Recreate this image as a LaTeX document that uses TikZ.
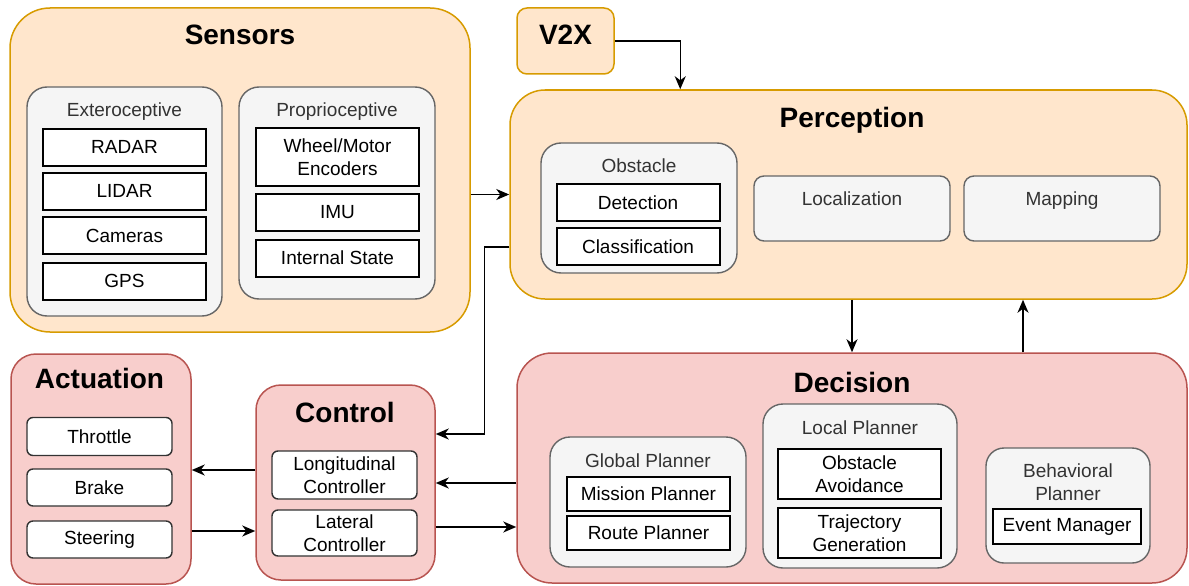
\documentclass[tikz,border=0pt]{standalone}
\usepackage{fontspec}
\setmainfont{Liberation Sans}
\usetikzlibrary{arrows.meta}
\definecolor{orfill}{HTML}{FFE6CC}
\definecolor{orline}{HTML}{D79B00}
\definecolor{pkfill}{HTML}{F8CECC}
\definecolor{pkline}{HTML}{B85450}
\definecolor{gyfill}{HTML}{F5F5F5}
\definecolor{gyline}{HTML}{666666}
\definecolor{gytext}{HTML}{333333}

\begin{document}
\begin{tikzpicture}[
  x=1pt, y=-1pt, >={Stealth[length=13pt,width=11pt,inset=4pt]},
  font=\fontsize{19}{23}\selectfont,
  grpor/.style={draw=orline, fill=orfill, line width=1.5pt, inner sep=0pt},
  grppk/.style={draw=pkline, fill=pkfill, line width=1.5pt, inner sep=0pt},
  subgrp/.style={draw=gyline, fill=gyfill, line width=1.4pt, inner sep=0pt},
  item/.style={draw=black, fill=white, line width=2pt, inner sep=0pt,
               minimum width=163pt, minimum height=37pt, align=center},
  citem/.style={draw=black!80, fill=white, line width=1.4pt, rounded corners=6pt,
                inner sep=0pt, minimum width=145pt, minimum height=37pt, align=center},
  ttl/.style={anchor=base, font=\bfseries\fontsize{28}{32}\selectfont},
  lbl/.style={anchor=base, text=gytext, align=center},
  conn/.style={->, line width=1.5pt},
]
\useasboundingbox (0,0) rectangle (1189,586);

% Sensors
\node[grpor, rounded corners=40pt, minimum width=460pt, minimum height=324pt] (sens) at (240,170) {};
\node[ttl] (sensT) at (240,45) {Sensors};
\node[subgrp, rounded corners=20pt, minimum width=195pt, minimum height=229pt] (extero) at (124.5,201.5) {};
\node[lbl] (exteroT) at (124.5,116) {Exteroceptive};
\node[item] (radar)   at (124.5,147)   {RADAR};
\node[item] (lidar)   at (124.5,191)   {LIDAR};
\node[item] (cameras) at (124.5,235.5) {Cameras};
\node[item] (gps)     at (124.5,281)   {GPS};
\node[subgrp, rounded corners=20pt, minimum width=196pt, minimum height=212pt] (proprio) at (337,193) {};
\node[lbl] (proprioT) at (337,116) {Proprioceptive};
\node[item, minimum height=58pt] (wheel) at (337.5,157) {Wheel/Motor\\Encoders};
\node[item] (imu)      at (337.5,212.5) {IMU};
\node[item] (internal) at (337.5,258)   {Internal State};

% V2X
\node[grpor, rounded corners=10pt, minimum width=97pt, minimum height=66pt] (v2x) at (565.5,41) {};
\node[ttl] (v2xT) at (565.5,45) {V2X};

% Perception
\node[grpor, rounded corners=35pt, minimum width=677pt, minimum height=209pt] (perc) at (848.5,194.5) {};
\node[ttl] (percT) at (852,128) {Perception};
\node[subgrp, rounded corners=20pt, minimum width=196pt, minimum height=130pt] (obst) at (639,208) {};
\node[lbl] (obstT) at (639,172) {Obstacle};
\node[item] (detect) at (638,202.5) {Detection};
\node[item] (classif) at (638,246.5) {Classification};
\node[subgrp, rounded corners=10pt, minimum width=196pt, minimum height=65pt] (local) at (852,208.5) {};
\node[lbl] (localT) at (852,205) {Localization};
\node[subgrp, rounded corners=10pt, minimum width=196pt, minimum height=65pt] (mapping) at (1062,208.5) {};
\node[lbl] (mappingT) at (1062,205) {Mapping};

% Decision
\node[grppk, rounded corners=35pt, minimum width=670pt, minimum height=230pt] (dec) at (852,468) {};
\node[ttl] (decT) at (852,392) {Decision};
\node[subgrp, rounded corners=20pt, minimum width=196pt, minimum height=130pt] (glob) at (648,502) {};
\node[lbl] (globT) at (648,467) {Global Planner};
\node[item, minimum height=34pt] (mission) at (648.5,494) {Mission Planner};
\node[item, minimum height=34pt] (route)   at (648.5,533) {Route Planner};
\node[subgrp, rounded corners=20pt, minimum width=194pt, minimum height=164pt] (locpl) at (860,486) {};
\node[lbl] (locplT) at (860,434) {Local Planner};
\node[item, minimum height=50pt] (avoid) at (859.5,474) {Obstacle\\Avoidance};
\node[item, minimum height=50pt] (traj)  at (859.5,533) {Trajectory\\Generation};
\node[subgrp, rounded corners=18pt, minimum width=164pt, minimum height=115pt] (behav) at (1068,505.5) {};
\node[lbl, anchor=center] (behavT) at (1068,482) {Behavioral\\Planner};
\node[item, minimum width=148pt, minimum height=35pt] (event) at (1067,526.5) {Event Manager};

% Actuation
\node[grppk, rounded corners=25pt, minimum width=180pt, minimum height=230pt] (act) at (101,469) {};
\node[ttl] (actT) at (99.5,388) {Actuation};
\node[citem, minimum height=38pt] (throttle) at (99.5,436.5) {Throttle};
\node[citem] (brake)    at (99.5,487.5) {Brake};
\node[citem] (steering) at (99.5,539.5) {Steering};

% Control
\node[grppk, rounded corners=25pt, minimum width=179pt, minimum height=195pt] (ctrl) at (345.5,482.5) {};
\node[ttl] (ctrlT) at (345,422) {Control};
\node[citem, minimum height=48pt] (longi) at (344.5,475) {Longitudinal\\Controller};
\node[citem, minimum height=46pt] (later) at (344.5,533) {Lateral\\Controller};

% connectors
\draw[conn] (sens.east |- perc.west) -- (perc.west);
\draw[conn] (v2x.east) -| ([xshift=171pt]perc.north west);
\draw[conn] ([yshift=-52.5pt]perc.west) -- ++(-25,0) |- ([yshift=48.5pt]ctrl.east);
\draw[conn] (perc.south -| dec.north) -- (dec.north);
\draw[conn] ([xshift=171pt]dec.north) -- ([xshift=174.5pt]perc.south);
\draw[conn] ([yshift=-15pt]dec.west) -- ([yshift=-0.5pt]ctrl.east);
\draw[conn] ([yshift=-44.5pt]ctrl.east) -- ([yshift=-59pt]dec.west);
\draw[conn] ([yshift=12.5pt]ctrl.west) -- ([yshift=-1pt]act.east);
\draw[conn] ([yshift=-62pt]act.east) -- ([yshift=-48.5pt]ctrl.west);
\end{tikzpicture}
\end{document}
